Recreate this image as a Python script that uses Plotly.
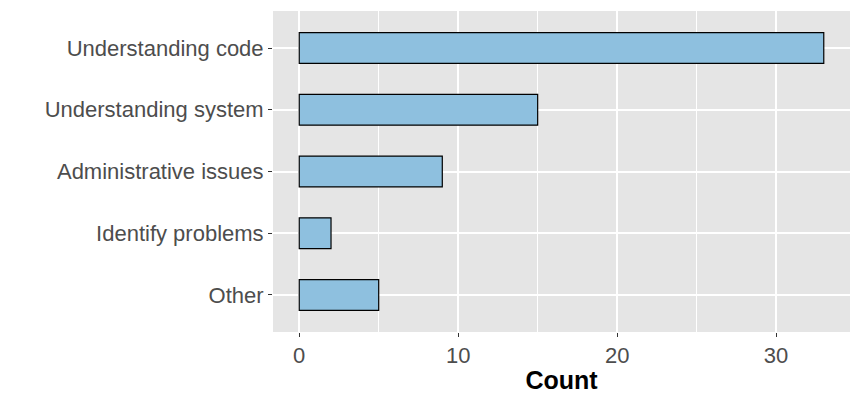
import plotly.graph_objects as go

categories = ["Other", "Identify problems", "Administrative issues",
              "Understanding system", "Understanding code"]
counts = [5, 2, 9, 15, 33]
x_ticks = [0, 10, 20, 30]

fig = go.Figure()
fig.add_trace(go.Bar(
    x=counts, y=categories, orientation="h", width=0.5,
    marker=dict(color="#8EC0DF", line=dict(color="black", width=1.2)),
))

# page body has an 8px margin, so offsets are compensated here
fig.update_layout(
    width=861, height=400,
    margin=dict(l=265, r=19, t=3, b=76),
    paper_bgcolor="white", plot_bgcolor="#E5E5E5",
    font=dict(family="Liberation Sans, Arial", size=22, color="#4D4D4D"),
    showlegend=False,
)
fig.update_xaxes(
    range=[-1.65, 34.65], tickvals=x_ticks, ticktext=[str(v) for v in x_ticks],
    showgrid=True, gridcolor="white", gridwidth=1.8,
    minor=dict(tickvals=[5, 15, 25], showgrid=True, gridcolor="white", gridwidth=0.9),
    ticks="outside", ticklen=4, tickwidth=1.2, tickcolor="#333333",
    zeroline=False, showline=False,
    title=dict(text="<b>Count</b>", font=dict(size=25, color="black"), standoff=4),
)
fig.update_yaxes(
    range=[-0.6, 4.6], showgrid=True, gridcolor="white", gridwidth=1.8,
    ticks="outside", ticklen=4, tickwidth=1.2, tickcolor="#333333",
    zeroline=False, showline=False,
)

fig.write_html("out.html")
